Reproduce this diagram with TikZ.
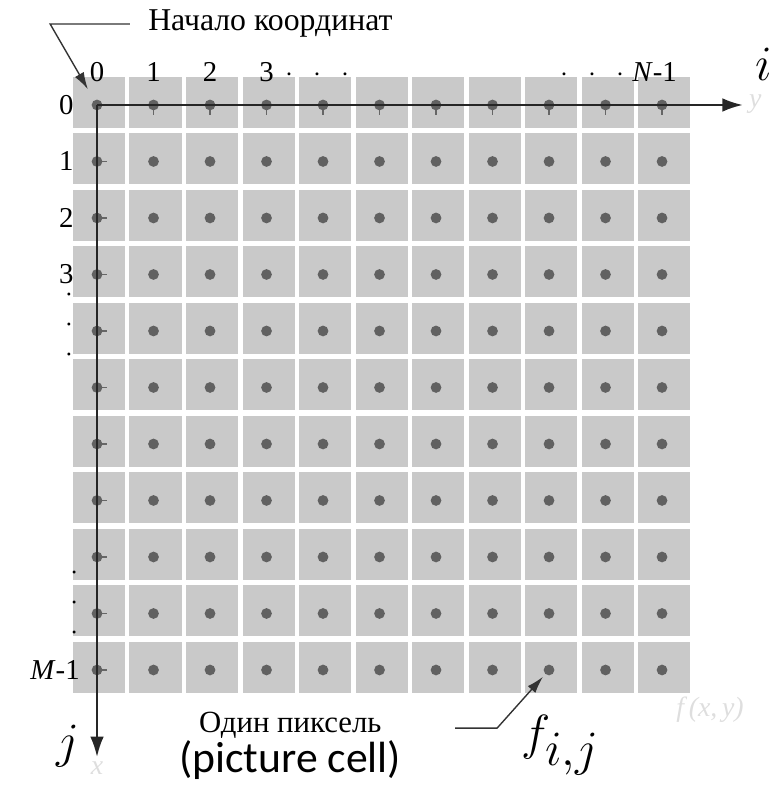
\documentclass[tikz,border=0pt]{standalone}
\usepackage{fontspec}
\setmainfont{Liberation Serif}
\newfontfamily\carlito{Carlito}
\usetikzlibrary{arrows.meta}

\begin{document}
\begin{tikzpicture}[
        bunka/.style={fill=black!21},
        bod/.style={circle, fill=black!62, inner sep=0pt, minimum size=0.19cm},
        zarez/.style={draw=black!60, line width=0.8pt},
        osa/.style={draw=black!85, line width=1.1pt, -{Latex[length=0.36cm,width=0.24cm]}},
        odkaz/.style={draw=black!80, line width=0.7pt, -{Latex[length=0.3cm,width=0.18cm]}},
        popisek/.style={font=\fontsize{14.5}{16}\selectfont, inner sep=0pt},
        napis/.style={font=\fontsize{16}{18}\selectfont, inner sep=0pt},
        velke/.style={font=\fontsize{34}{36}\selectfont, inner sep=0pt},
        duch/.style={text=black!13, font=\fontsize{14}{16}\selectfont\itshape, inner sep=0pt}
    ]
        \useasboundingbox (-1.717,1.858) rectangle (12.088,-12.071);

        % mrizka pixelu
        \foreach \i in {0,...,10} {
            \foreach \j in {0,...,10} {
                \fill[bunka] ({\i-0.425},{-\j-0.407}) rectangle ({\i+0.496},{-\j+0.496});
            }
        }

        % zarezy na osach
        \foreach \i in {1,...,10} {
            \draw[zarez] (\i,0) -- (\i,-0.17);
            \draw[zarez] (0,-\i) -- (0.17,-\i);
        }

        % body (stredy pixelu)
        \foreach \i in {0,...,10} {
            \foreach \j in {0,...,10} {
                \node[bod] (p-\i-\j) at (\i,-\j) {};
            }
        }

        % osy
        \coordinate (konecI) at (11.43,0);
        \coordinate (konecJ) at (0,-11.54);
        \draw[osa] (p-0-0.center) -- (konecI);
        \draw[osa] (p-0-0.center) -- (konecJ);

        % cisla sloupcu a radku
        \foreach \i in {0,...,3} {
            \node[popisek, anchor=base] (sl-\i) at (\i,0.41) {\i};
            \node[popisek, anchor=east] (ra-\i) at (-0.41,-\i) {\i};
        }
        \node[popisek, anchor=base west] (tecky1) at (3.33,0.41) {$\cdot\hspace{7pt}\cdot\hspace{7pt}\cdot$};
        \node[popisek, anchor=base east] (slN) at (10.27,0.41) {$\cdot\hspace{7pt}\cdot\hspace{7pt}\cdot$\hspace{4pt}\textit{N}-1};
        \node[popisek, rotate=90] (tecky2) at (-0.48,-3.89) {$\cdot\hspace{8pt}\cdot\hspace{8pt}\cdot$};
        \node[popisek, rotate=90] (tecky3) at (-0.39,-8.81) {$\cdot\hspace{8pt}\cdot\hspace{8pt}\cdot$};
        \node[popisek, anchor=east] (raM) at (-0.3,-10) {\textit{M}-1};

        % nazvy os
        \node[velke] (osaI) at (11.8,0.72) {$i$};
        \node[velke] (osaJ) at (-0.51,-11.35) {$j$};
        \node[duch] (duchY) at (11.65,0.02) {y};
        \node[duch] (duchX) at (0,-11.73) {x};
        \node[duch] (duchF) at (10.85,-10.71) {f\,(x,\,y)};

        % pocatek souradnic
        \node[napis, anchor=base west] (pocatek) at (0.9,1.31) {Начало координат};
        \draw[odkaz, shorten >=0.22cm] ([xshift=-0.32cm]pocatek.west) -- ++(-1.41,0) -- (p-0-0);

        % jeden pixel
        \node[napis, font=\fontsize{15.5}{18}\selectfont, anchor=base] (pixel) at (3.42,-11.11) {Один пиксель};
        \node[font=\carlito\fontsize{22}{24}\selectfont, inner sep=0pt, anchor=base] (bunkaEn) at (3.42,-11.82) {(picture cell)};

        % hodnota pixelu
        \node[velke] (fij) at (8.2,-11.33) {$f_{i,j}$};
        \coordinate (start2) at (6.34,-11.03);
        \coordinate (zlom2) at (7.08,-11.03);
        \draw[odkaz, shorten >=0.06cm] (start2) -- (zlom2) -- (p-8-10);
    \end{tikzpicture}
\end{document}
